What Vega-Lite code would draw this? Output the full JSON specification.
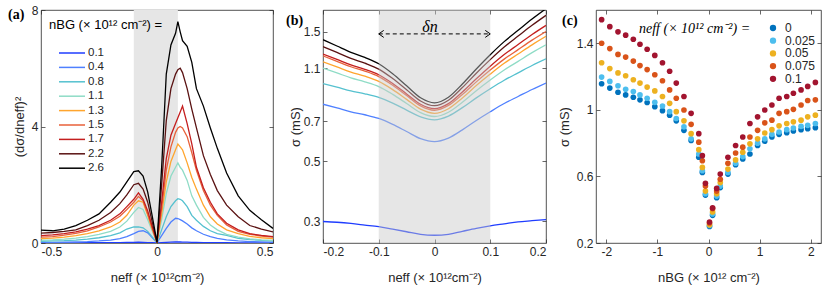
{
"$schema": "https://vega.github.io/schema/vega-lite/v6.json",
"padding": {"left": 7, "top": 3, "right": 5, "bottom": 3},
"spacing": 50,
"bounds": "flush",
"config": {
 "font": "Liberation Sans",
 "view": {"stroke": "#262626", "strokeWidth": 0.8},
 "axis": {"grid": false, "domain": false, "tickSize": -4, "tickColor": "#262626", "tickWidth": 0.7, "labelFontSize": 12, "labelColor": "#262626", "labelPadding": 7, "titleFontSize": 13, "titleFontWeight": "normal", "titleColor": "#262626"},
 "axisX": {"titlePadding": 14},
 "axisY": {"titlePadding": 5},
 "legend": {"labelFontSize": 11.5, "labelColor": "#262626", "titleFontWeight": "normal", "titleColor": "#000", "titleLimit": 300}
},
"datasets": {
"a": [
{"g":"0.1","x":-0.5,"y":0.005},{"g":"0.1","x":-0.45,"y":0.005},{"g":"0.1","x":-0.4,"y":0.006},{"g":"0.1","x":-0.35,"y":0.007},{"g":"0.1","x":-0.3,"y":0.008},{"g":"0.1","x":-0.25,"y":0.01},{"g":"0.1","x":-0.2,"y":0.012},{"g":"0.1","x":-0.16,"y":0.016},{"g":"0.1","x":-0.13,"y":0.02},{"g":"0.1","x":-0.1,"y":0.024},{"g":"0.1","x":-0.08,"y":0.026},{"g":"0.1","x":-0.06,"y":0.024},{"g":"0.1","x":-0.04,"y":0.016},{"g":"0.1","x":-0.02,"y":0.008},{"g":"0.1","x":0,"y":0},{"g":"0.1","x":0.02,"y":0.012},{"g":"0.1","x":0.04,"y":0.024},{"g":"0.1","x":0.06,"y":0.032},{"g":"0.1","x":0.08,"y":0.036},{"g":"0.1","x":0.09,"y":0.035},{"g":"0.1","x":0.1,"y":0.034},{"g":"0.1","x":0.11,"y":0.032},{"g":"0.1","x":0.13,"y":0.028},{"g":"0.1","x":0.15,"y":0.024},{"g":"0.1","x":0.17,"y":0.02},{"g":"0.1","x":0.2,"y":0.016},{"g":"0.1","x":0.23,"y":0.013},{"g":"0.1","x":0.26,"y":0.011},{"g":"0.1","x":0.3,"y":0.009},{"g":"0.1","x":0.35,"y":0.007},{"g":"0.1","x":0.4,"y":0.006},{"g":"0.1","x":0.45,"y":0.005},{"g":"0.1","x":0.5,"y":0.005},
{"g":"0.4","x":-0.5,"y":0.02},{"g":"0.4","x":-0.45,"y":0.02},{"g":"0.4","x":-0.4,"y":0.03},{"g":"0.4","x":-0.35,"y":0.04},{"g":"0.4","x":-0.3,"y":0.05},{"g":"0.4","x":-0.25,"y":0.07},{"g":"0.4","x":-0.2,"y":0.1},{"g":"0.4","x":-0.16,"y":0.15},{"g":"0.4","x":-0.13,"y":0.22},{"g":"0.4","x":-0.1,"y":0.32},{"g":"0.4","x":-0.08,"y":0.4},{"g":"0.4","x":-0.06,"y":0.42},{"g":"0.4","x":-0.04,"y":0.35},{"g":"0.4","x":-0.02,"y":0.18},{"g":"0.4","x":0,"y":0.01},{"g":"0.4","x":0.02,"y":0.25},{"g":"0.4","x":0.04,"y":0.5},{"g":"0.4","x":0.06,"y":0.72},{"g":"0.4","x":0.08,"y":0.85},{"g":"0.4","x":0.09,"y":0.84},{"g":"0.4","x":0.1,"y":0.8},{"g":"0.4","x":0.11,"y":0.76},{"g":"0.4","x":0.13,"y":0.65},{"g":"0.4","x":0.15,"y":0.52},{"g":"0.4","x":0.17,"y":0.42},{"g":"0.4","x":0.2,"y":0.3},{"g":"0.4","x":0.23,"y":0.22},{"g":"0.4","x":0.26,"y":0.16},{"g":"0.4","x":0.3,"y":0.11},{"g":"0.4","x":0.35,"y":0.07},{"g":"0.4","x":0.4,"y":0.05},{"g":"0.4","x":0.45,"y":0.04},{"g":"0.4","x":0.5,"y":0.03},
{"g":"0.8","x":-0.5,"y":0.06},{"g":"0.8","x":-0.45,"y":0.07},{"g":"0.8","x":-0.4,"y":0.08},{"g":"0.8","x":-0.35,"y":0.1},{"g":"0.8","x":-0.3,"y":0.13},{"g":"0.8","x":-0.25,"y":0.18},{"g":"0.8","x":-0.2,"y":0.25},{"g":"0.8","x":-0.16,"y":0.35},{"g":"0.8","x":-0.13,"y":0.48},{"g":"0.8","x":-0.1,"y":0.55},{"g":"0.8","x":-0.08,"y":0.55},{"g":"0.8","x":-0.06,"y":0.52},{"g":"0.8","x":-0.04,"y":0.4},{"g":"0.8","x":-0.02,"y":0.2},{"g":"0.8","x":0,"y":0.01},{"g":"0.8","x":0.02,"y":0.45},{"g":"0.8","x":0.04,"y":0.9},{"g":"0.8","x":0.06,"y":1.25},{"g":"0.8","x":0.08,"y":1.45},{"g":"0.8","x":0.09,"y":1.52},{"g":"0.8","x":0.1,"y":1.5},{"g":"0.8","x":0.11,"y":1.45},{"g":"0.8","x":0.13,"y":1.25},{"g":"0.8","x":0.15,"y":0.95},{"g":"0.8","x":0.17,"y":0.78},{"g":"0.8","x":0.2,"y":0.57},{"g":"0.8","x":0.23,"y":0.42},{"g":"0.8","x":0.26,"y":0.32},{"g":"0.8","x":0.3,"y":0.26},{"g":"0.8","x":0.35,"y":0.16},{"g":"0.8","x":0.4,"y":0.12},{"g":"0.8","x":0.45,"y":0.09},{"g":"0.8","x":0.5,"y":0.07},
{"g":"1.1","x":-0.5,"y":0.1},{"g":"1.1","x":-0.45,"y":0.11},{"g":"1.1","x":-0.4,"y":0.13},{"g":"1.1","x":-0.35,"y":0.17},{"g":"1.1","x":-0.3,"y":0.22},{"g":"1.1","x":-0.25,"y":0.3},{"g":"1.1","x":-0.2,"y":0.4},{"g":"1.1","x":-0.16,"y":0.55},{"g":"1.1","x":-0.13,"y":0.75},{"g":"1.1","x":-0.1,"y":1.05},{"g":"1.1","x":-0.08,"y":1.22},{"g":"1.1","x":-0.06,"y":1.15},{"g":"1.1","x":-0.04,"y":0.8},{"g":"1.1","x":-0.02,"y":0.4},{"g":"1.1","x":0,"y":0.02},{"g":"1.1","x":0.02,"y":0.8},{"g":"1.1","x":0.04,"y":1.7},{"g":"1.1","x":0.06,"y":2.3},{"g":"1.1","x":0.08,"y":2.6},{"g":"1.1","x":0.09,"y":2.75},{"g":"1.1","x":0.1,"y":2.6},{"g":"1.1","x":0.11,"y":2.5},{"g":"1.1","x":0.13,"y":2.15},{"g":"1.1","x":0.15,"y":1.62},{"g":"1.1","x":0.17,"y":1.3},{"g":"1.1","x":0.2,"y":0.88},{"g":"1.1","x":0.23,"y":0.62},{"g":"1.1","x":0.26,"y":0.45},{"g":"1.1","x":0.3,"y":0.3},{"g":"1.1","x":0.35,"y":0.2},{"g":"1.1","x":0.4,"y":0.14},{"g":"1.1","x":0.45,"y":0.11},{"g":"1.1","x":0.5,"y":0.09},
{"g":"1.3","x":-0.5,"y":0.15},{"g":"1.3","x":-0.45,"y":0.17},{"g":"1.3","x":-0.4,"y":0.2},{"g":"1.3","x":-0.35,"y":0.25},{"g":"1.3","x":-0.3,"y":0.32},{"g":"1.3","x":-0.25,"y":0.42},{"g":"1.3","x":-0.2,"y":0.55},{"g":"1.3","x":-0.16,"y":0.72},{"g":"1.3","x":-0.13,"y":0.95},{"g":"1.3","x":-0.1,"y":1.3},{"g":"1.3","x":-0.08,"y":1.45},{"g":"1.3","x":-0.06,"y":1.4},{"g":"1.3","x":-0.04,"y":0.95},{"g":"1.3","x":-0.02,"y":0.45},{"g":"1.3","x":0,"y":0.02},{"g":"1.3","x":0.02,"y":1.0},{"g":"1.3","x":0.04,"y":2.1},{"g":"1.3","x":0.06,"y":2.8},{"g":"1.3","x":0.08,"y":3.2},{"g":"1.3","x":0.09,"y":3.4},{"g":"1.3","x":0.1,"y":3.3},{"g":"1.3","x":0.11,"y":3.2},{"g":"1.3","x":0.13,"y":2.75},{"g":"1.3","x":0.15,"y":2.25},{"g":"1.3","x":0.17,"y":1.85},{"g":"1.3","x":0.2,"y":1.3},{"g":"1.3","x":0.23,"y":0.9},{"g":"1.3","x":0.26,"y":0.65},{"g":"1.3","x":0.3,"y":0.45},{"g":"1.3","x":0.35,"y":0.32},{"g":"1.3","x":0.4,"y":0.23},{"g":"1.3","x":0.45,"y":0.18},{"g":"1.3","x":0.5,"y":0.15},
{"g":"1.5","x":-0.5,"y":0.2},{"g":"1.5","x":-0.45,"y":0.22},{"g":"1.5","x":-0.4,"y":0.27},{"g":"1.5","x":-0.35,"y":0.33},{"g":"1.5","x":-0.3,"y":0.42},{"g":"1.5","x":-0.25,"y":0.55},{"g":"1.5","x":-0.2,"y":0.72},{"g":"1.5","x":-0.16,"y":0.92},{"g":"1.5","x":-0.13,"y":1.15},{"g":"1.5","x":-0.1,"y":1.4},{"g":"1.5","x":-0.08,"y":1.6},{"g":"1.5","x":-0.06,"y":1.45},{"g":"1.5","x":-0.04,"y":1.0},{"g":"1.5","x":-0.02,"y":0.5},{"g":"1.5","x":0,"y":0.02},{"g":"1.5","x":0.02,"y":1.2},{"g":"1.5","x":0.04,"y":2.5},{"g":"1.5","x":0.06,"y":3.3},{"g":"1.5","x":0.08,"y":3.8},{"g":"1.5","x":0.09,"y":3.95},{"g":"1.5","x":0.1,"y":4.0},{"g":"1.5","x":0.11,"y":3.95},{"g":"1.5","x":0.13,"y":3.65},{"g":"1.5","x":0.15,"y":3.1},{"g":"1.5","x":0.17,"y":2.5},{"g":"1.5","x":0.2,"y":1.8},{"g":"1.5","x":0.23,"y":1.3},{"g":"1.5","x":0.26,"y":0.95},{"g":"1.5","x":0.3,"y":0.62},{"g":"1.5","x":0.35,"y":0.4},{"g":"1.5","x":0.4,"y":0.3},{"g":"1.5","x":0.45,"y":0.24},{"g":"1.5","x":0.5,"y":0.2},
{"g":"1.7","x":-0.5,"y":0.25},{"g":"1.7","x":-0.45,"y":0.28},{"g":"1.7","x":-0.4,"y":0.32},{"g":"1.7","x":-0.35,"y":0.38},{"g":"1.7","x":-0.3,"y":0.48},{"g":"1.7","x":-0.25,"y":0.6},{"g":"1.7","x":-0.2,"y":0.78},{"g":"1.7","x":-0.16,"y":1.0},{"g":"1.7","x":-0.13,"y":1.25},{"g":"1.7","x":-0.1,"y":1.5},{"g":"1.7","x":-0.08,"y":1.72},{"g":"1.7","x":-0.06,"y":1.5},{"g":"1.7","x":-0.04,"y":1.1},{"g":"1.7","x":-0.02,"y":0.55},{"g":"1.7","x":0,"y":0.02},{"g":"1.7","x":0.02,"y":1.4},{"g":"1.7","x":0.04,"y":2.9},{"g":"1.7","x":0.06,"y":3.7},{"g":"1.7","x":0.08,"y":4.1},{"g":"1.7","x":0.09,"y":4.3},{"g":"1.7","x":0.1,"y":4.5},{"g":"1.7","x":0.11,"y":4.7},{"g":"1.7","x":0.13,"y":4.1},{"g":"1.7","x":0.15,"y":3.4},{"g":"1.7","x":0.17,"y":2.6},{"g":"1.7","x":0.2,"y":1.9},{"g":"1.7","x":0.23,"y":1.4},{"g":"1.7","x":0.26,"y":1.0},{"g":"1.7","x":0.3,"y":0.68},{"g":"1.7","x":0.35,"y":0.45},{"g":"1.7","x":0.4,"y":0.32},{"g":"1.7","x":0.45,"y":0.26},{"g":"1.7","x":0.5,"y":0.22},
{"g":"2.2","x":-0.5,"y":0.34},{"g":"2.2","x":-0.45,"y":0.36},{"g":"2.2","x":-0.4,"y":0.4},{"g":"2.2","x":-0.35,"y":0.45},{"g":"2.2","x":-0.3,"y":0.6},{"g":"2.2","x":-0.25,"y":0.78},{"g":"2.2","x":-0.2,"y":1.05},{"g":"2.2","x":-0.16,"y":1.35},{"g":"2.2","x":-0.13,"y":1.65},{"g":"2.2","x":-0.1,"y":2.0},{"g":"2.2","x":-0.08,"y":2.05},{"g":"2.2","x":-0.06,"y":1.85},{"g":"2.2","x":-0.04,"y":1.4},{"g":"2.2","x":-0.02,"y":0.7},{"g":"2.2","x":0,"y":0.02},{"g":"2.2","x":0.02,"y":2.0},{"g":"2.2","x":0.04,"y":4.2},{"g":"2.2","x":0.06,"y":5.3},{"g":"2.2","x":0.08,"y":5.8},{"g":"2.2","x":0.09,"y":5.95},{"g":"2.2","x":0.1,"y":6.0},{"g":"2.2","x":0.11,"y":5.85},{"g":"2.2","x":0.13,"y":5.3},{"g":"2.2","x":0.15,"y":4.6},{"g":"2.2","x":0.17,"y":3.95},{"g":"2.2","x":0.2,"y":3.0},{"g":"2.2","x":0.23,"y":2.35},{"g":"2.2","x":0.26,"y":1.8},{"g":"2.2","x":0.3,"y":1.3},{"g":"2.2","x":0.35,"y":0.9},{"g":"2.2","x":0.4,"y":0.6},{"g":"2.2","x":0.45,"y":0.48},{"g":"2.2","x":0.5,"y":0.38},
{"g":"2.6","x":-0.5,"y":0.44},{"g":"2.6","x":-0.45,"y":0.42},{"g":"2.6","x":-0.4,"y":0.48},{"g":"2.6","x":-0.35,"y":0.6},{"g":"2.6","x":-0.3,"y":0.78},{"g":"2.6","x":-0.25,"y":1.0},{"g":"2.6","x":-0.2,"y":1.4},{"g":"2.6","x":-0.16,"y":1.75},{"g":"2.6","x":-0.13,"y":2.1},{"g":"2.6","x":-0.1,"y":2.45},{"g":"2.6","x":-0.08,"y":2.48},{"g":"2.6","x":-0.06,"y":2.3},{"g":"2.6","x":-0.04,"y":1.75},{"g":"2.6","x":-0.02,"y":0.9},{"g":"2.6","x":0,"y":0.02},{"g":"2.6","x":0.02,"y":2.6},{"g":"2.6","x":0.04,"y":5.8},{"g":"2.6","x":0.06,"y":6.8},{"g":"2.6","x":0.08,"y":7.2},{"g":"2.6","x":0.09,"y":7.6},{"g":"2.6","x":0.1,"y":7.25},{"g":"2.6","x":0.11,"y":6.95},{"g":"2.6","x":0.13,"y":6.75},{"g":"2.6","x":0.15,"y":6.2},{"g":"2.6","x":0.17,"y":5.3},{"g":"2.6","x":0.2,"y":4.7},{"g":"2.6","x":0.23,"y":3.95},{"g":"2.6","x":0.26,"y":3.25},{"g":"2.6","x":0.3,"y":2.4},{"g":"2.6","x":0.35,"y":1.62},{"g":"2.6","x":0.4,"y":1.12},{"g":"2.6","x":0.45,"y":0.8},{"g":"2.6","x":0.5,"y":0.5}
],
"b": [
{"g":"0.1","x":-0.2,"y":0.3},{"g":"0.1","x":-0.175,"y":0.298},{"g":"0.1","x":-0.15,"y":0.295},{"g":"0.1","x":-0.125,"y":0.291},{"g":"0.1","x":-0.1,"y":0.287},{"g":"0.1","x":-0.075,"y":0.281},{"g":"0.1","x":-0.05,"y":0.275},{"g":"0.1","x":-0.025,"y":0.269},{"g":"0.1","x":0,"y":0.267},{"g":"0.1","x":0.025,"y":0.269},{"g":"0.1","x":0.05,"y":0.276},{"g":"0.1","x":0.075,"y":0.283},{"g":"0.1","x":0.1,"y":0.289},{"g":"0.1","x":0.125,"y":0.294},{"g":"0.1","x":0.15,"y":0.299},{"g":"0.1","x":0.175,"y":0.302},{"g":"0.1","x":0.2,"y":0.305},
{"g":"0.4","x":-0.2,"y":0.81},{"g":"0.4","x":-0.175,"y":0.785},{"g":"0.4","x":-0.15,"y":0.76},{"g":"0.4","x":-0.125,"y":0.741},{"g":"0.4","x":-0.1,"y":0.718},{"g":"0.4","x":-0.075,"y":0.683},{"g":"0.4","x":-0.05,"y":0.643},{"g":"0.4","x":-0.025,"y":0.605},{"g":"0.4","x":0,"y":0.59},{"g":"0.4","x":0.025,"y":0.608},{"g":"0.4","x":0.05,"y":0.652},{"g":"0.4","x":0.075,"y":0.706},{"g":"0.4","x":0.1,"y":0.76},{"g":"0.4","x":0.125,"y":0.815},{"g":"0.4","x":0.15,"y":0.865},{"g":"0.4","x":0.175,"y":0.918},{"g":"0.4","x":0.2,"y":0.97},
{"g":"0.8","x":-0.2,"y":0.965},{"g":"0.8","x":-0.175,"y":0.936},{"g":"0.8","x":-0.15,"y":0.907},{"g":"0.8","x":-0.125,"y":0.885},{"g":"0.8","x":-0.1,"y":0.858},{"g":"0.8","x":-0.075,"y":0.818},{"g":"0.8","x":-0.05,"y":0.771},{"g":"0.8","x":-0.025,"y":0.728},{"g":"0.8","x":0,"y":0.71},{"g":"0.8","x":0.025,"y":0.733},{"g":"0.8","x":0.05,"y":0.787},{"g":"0.8","x":0.075,"y":0.855},{"g":"0.8","x":0.1,"y":0.924},{"g":"0.8","x":0.125,"y":0.993},{"g":"0.8","x":0.15,"y":1.057},{"g":"0.8","x":0.175,"y":1.125},{"g":"0.8","x":0.2,"y":1.19},
{"g":"1.1","x":-0.2,"y":1.1},{"g":"1.1","x":-0.175,"y":1.056},{"g":"1.1","x":-0.15,"y":1.013},{"g":"1.1","x":-0.125,"y":0.98},{"g":"1.1","x":-0.1,"y":0.941},{"g":"1.1","x":-0.075,"y":0.881},{"g":"1.1","x":-0.05,"y":0.815},{"g":"1.1","x":-0.025,"y":0.754},{"g":"1.1","x":0,"y":0.73},{"g":"1.1","x":0.025,"y":0.757},{"g":"1.1","x":0.05,"y":0.824},{"g":"1.1","x":0.075,"y":0.909},{"g":"1.1","x":0.1,"y":0.995},{"g":"1.1","x":0.125,"y":1.083},{"g":"1.1","x":0.15,"y":1.165},{"g":"1.1","x":0.175,"y":1.254},{"g":"1.1","x":0.2,"y":1.34},
{"g":"1.3","x":-0.2,"y":1.16},{"g":"1.3","x":-0.175,"y":1.111},{"g":"1.3","x":-0.15,"y":1.063},{"g":"1.3","x":-0.125,"y":1.027},{"g":"1.3","x":-0.1,"y":0.983},{"g":"1.3","x":-0.075,"y":0.917},{"g":"1.3","x":-0.05,"y":0.844},{"g":"1.3","x":-0.025,"y":0.777},{"g":"1.3","x":0,"y":0.75},{"g":"1.3","x":0.025,"y":0.78},{"g":"1.3","x":0.05,"y":0.854},{"g":"1.3","x":0.075,"y":0.949},{"g":"1.3","x":0.1,"y":1.046},{"g":"1.3","x":0.125,"y":1.146},{"g":"1.3","x":0.15,"y":1.239},{"g":"1.3","x":0.175,"y":1.34},{"g":"1.3","x":0.2,"y":1.44},
{"g":"1.5","x":-0.2,"y":1.22},{"g":"1.5","x":-0.175,"y":1.165},{"g":"1.5","x":-0.15,"y":1.113},{"g":"1.5","x":-0.125,"y":1.073},{"g":"1.5","x":-0.1,"y":1.024},{"g":"1.5","x":-0.075,"y":0.952},{"g":"1.5","x":-0.05,"y":0.872},{"g":"1.5","x":-0.025,"y":0.799},{"g":"1.5","x":0,"y":0.77},{"g":"1.5","x":0.025,"y":0.802},{"g":"1.5","x":0.05,"y":0.88},{"g":"1.5","x":0.075,"y":0.979},{"g":"1.5","x":0.1,"y":1.082},{"g":"1.5","x":0.125,"y":1.187},{"g":"1.5","x":0.15,"y":1.287},{"g":"1.5","x":0.175,"y":1.394},{"g":"1.5","x":0.2,"y":1.5},
{"g":"1.7","x":-0.2,"y":1.24},{"g":"1.7","x":-0.175,"y":1.184},{"g":"1.7","x":-0.15,"y":1.13},{"g":"1.7","x":-0.125,"y":1.089},{"g":"1.7","x":-0.1,"y":1.04},{"g":"1.7","x":-0.075,"y":0.966},{"g":"1.7","x":-0.05,"y":0.884},{"g":"1.7","x":-0.025,"y":0.81},{"g":"1.7","x":0,"y":0.78},{"g":"1.7","x":0.025,"y":0.814},{"g":"1.7","x":0.05,"y":0.899},{"g":"1.7","x":0.075,"y":1.005},{"g":"1.7","x":0.1,"y":1.118},{"g":"1.7","x":0.125,"y":1.234},{"g":"1.7","x":0.15,"y":1.343},{"g":"1.7","x":0.175,"y":1.462},{"g":"1.7","x":0.2,"y":1.58},
{"g":"2.2","x":-0.2,"y":1.32},{"g":"2.2","x":-0.175,"y":1.256},{"g":"2.2","x":-0.15,"y":1.194},{"g":"2.2","x":-0.125,"y":1.147},{"g":"2.2","x":-0.1,"y":1.091},{"g":"2.2","x":-0.075,"y":1.007},{"g":"2.2","x":-0.05,"y":0.916},{"g":"2.2","x":-0.025,"y":0.833},{"g":"2.2","x":0,"y":0.8},{"g":"2.2","x":0.025,"y":0.838},{"g":"2.2","x":0.05,"y":0.933},{"g":"2.2","x":0.075,"y":1.054},{"g":"2.2","x":0.1,"y":1.182},{"g":"2.2","x":0.125,"y":1.315},{"g":"2.2","x":0.15,"y":1.443},{"g":"2.2","x":0.175,"y":1.581},{"g":"2.2","x":0.2,"y":1.72},
{"g":"2.6","x":-0.2,"y":1.4},{"g":"2.6","x":-0.175,"y":1.327},{"g":"2.6","x":-0.15,"y":1.258},{"g":"2.6","x":-0.125,"y":1.205},{"g":"2.6","x":-0.1,"y":1.142},{"g":"2.6","x":-0.075,"y":1.049},{"g":"2.6","x":-0.05,"y":0.947},{"g":"2.6","x":-0.025,"y":0.856},{"g":"2.6","x":0,"y":0.82},{"g":"2.6","x":0.025,"y":0.86},{"g":"2.6","x":0.05,"y":0.962},{"g":"2.6","x":0.075,"y":1.092},{"g":"2.6","x":0.1,"y":1.232},{"g":"2.6","x":0.125,"y":1.377},{"g":"2.6","x":0.15,"y":1.515},{"g":"2.6","x":0.175,"y":1.667},{"g":"2.6","x":0.2,"y":1.82}
],
"c": [
{"g":"0","x":-2.09,"y":1.157},{"g":"0","x":-1.93,"y":1.131},{"g":"0","x":-1.77,"y":1.106},{"g":"0","x":-1.62,"y":1.09},{"g":"0","x":-1.47,"y":1.076},{"g":"0","x":-1.34,"y":1.06},{"g":"0","x":-1.2,"y":1.044},{"g":"0","x":-1.05,"y":1.019},{"g":"0","x":-0.9,"y":0.995},{"g":"0","x":-0.76,"y":0.968},{"g":"0","x":-0.63,"y":0.934},{"g":"0","x":-0.48,"y":0.877},{"g":"0","x":-0.34,"y":0.816},{"g":"0","x":-0.19,"y":0.715},{"g":"0","x":-0.12,"y":0.624},{"g":"0","x":-0.06,"y":0.488},{"g":"0","x":0.02,"y":0.299},{"g":"0","x":0.08,"y":0.366},{"g":"0","x":0.16,"y":0.472},{"g":"0","x":0.23,"y":0.533},{"g":"0","x":0.38,"y":0.614},{"g":"0","x":0.53,"y":0.67},{"g":"0","x":0.67,"y":0.705},{"g":"0","x":0.81,"y":0.735},{"g":"0","x":0.96,"y":0.786},{"g":"0","x":1.1,"y":0.812},{"g":"0","x":1.24,"y":0.837},{"g":"0","x":1.38,"y":0.853},{"g":"0","x":1.53,"y":0.863},{"g":"0","x":1.66,"y":0.873},{"g":"0","x":1.81,"y":0.881},{"g":"0","x":1.94,"y":0.887},{"g":"0","x":2.09,"y":0.893},
{"g":"0.025","x":-2.09,"y":1.197},{"g":"0.025","x":-1.93,"y":1.171},{"g":"0.025","x":-1.77,"y":1.145},{"g":"0.025","x":-1.62,"y":1.124},{"g":"0.025","x":-1.47,"y":1.11},{"g":"0.025","x":-1.34,"y":1.09},{"g":"0.025","x":-1.2,"y":1.07},{"g":"0.025","x":-1.05,"y":1.045},{"g":"0.025","x":-0.9,"y":1.023},{"g":"0.025","x":-0.76,"y":0.989},{"g":"0.025","x":-0.63,"y":0.948},{"g":"0.025","x":-0.48,"y":0.898},{"g":"0.025","x":-0.34,"y":0.826},{"g":"0.025","x":-0.19,"y":0.735},{"g":"0.025","x":-0.12,"y":0.634},{"g":"0.025","x":-0.06,"y":0.496},{"g":"0.025","x":0.02,"y":0.305},{"g":"0.025","x":0.08,"y":0.375},{"g":"0.025","x":0.16,"y":0.482},{"g":"0.025","x":0.23,"y":0.542},{"g":"0.025","x":0.38,"y":0.624},{"g":"0.025","x":0.53,"y":0.679},{"g":"0.025","x":0.67,"y":0.719},{"g":"0.025","x":0.81,"y":0.766},{"g":"0.025","x":0.96,"y":0.8},{"g":"0.025","x":1.1,"y":0.826},{"g":"0.025","x":1.24,"y":0.853},{"g":"0.025","x":1.38,"y":0.867},{"g":"0.025","x":1.53,"y":0.881},{"g":"0.025","x":1.66,"y":0.891},{"g":"0.025","x":1.81,"y":0.901},{"g":"0.025","x":1.94,"y":0.907},{"g":"0.025","x":2.09,"y":0.918},
{"g":"0.05","x":-2.09,"y":1.283},{"g":"0.05","x":-1.93,"y":1.248},{"g":"0.05","x":-1.77,"y":1.222},{"g":"0.05","x":-1.62,"y":1.205},{"g":"0.05","x":-1.47,"y":1.181},{"g":"0.05","x":-1.34,"y":1.161},{"g":"0.05","x":-1.2,"y":1.137},{"g":"0.05","x":-1.05,"y":1.114},{"g":"0.05","x":-0.9,"y":1.08},{"g":"0.05","x":-0.76,"y":1.039},{"g":"0.05","x":-0.63,"y":0.989},{"g":"0.05","x":-0.48,"y":0.934},{"g":"0.05","x":-0.34,"y":0.857},{"g":"0.05","x":-0.19,"y":0.761},{"g":"0.05","x":-0.12,"y":0.654},{"g":"0.05","x":-0.06,"y":0.512},{"g":"0.05","x":0.02,"y":0.309},{"g":"0.05","x":0.08,"y":0.387},{"g":"0.05","x":0.16,"y":0.496},{"g":"0.05","x":0.23,"y":0.563},{"g":"0.05","x":0.38,"y":0.644},{"g":"0.05","x":0.53,"y":0.699},{"g":"0.05","x":0.67,"y":0.745},{"g":"0.05","x":0.81,"y":0.796},{"g":"0.05","x":0.96,"y":0.826},{"g":"0.05","x":1.1,"y":0.861},{"g":"0.05","x":1.24,"y":0.881},{"g":"0.05","x":1.38,"y":0.904},{"g":"0.05","x":1.53,"y":0.918},{"g":"0.05","x":1.66,"y":0.928},{"g":"0.05","x":1.81,"y":0.938},{"g":"0.05","x":1.94,"y":0.958},{"g":"0.05","x":2.09,"y":0.968},
{"g":"0.075","x":-2.09,"y":1.4},{"g":"0.075","x":-1.93,"y":1.368},{"g":"0.075","x":-1.77,"y":1.333},{"g":"0.075","x":-1.62,"y":1.317},{"g":"0.075","x":-1.47,"y":1.293},{"g":"0.075","x":-1.34,"y":1.266},{"g":"0.075","x":-1.2,"y":1.242},{"g":"0.075","x":-1.05,"y":1.211},{"g":"0.075","x":-0.9,"y":1.175},{"g":"0.075","x":-0.76,"y":1.12},{"g":"0.075","x":-0.63,"y":1.07},{"g":"0.075","x":-0.48,"y":0.999},{"g":"0.075","x":-0.34,"y":0.913},{"g":"0.075","x":-0.19,"y":0.806},{"g":"0.075","x":-0.12,"y":0.694},{"g":"0.075","x":-0.06,"y":0.542},{"g":"0.075","x":0.02,"y":0.32},{"g":"0.075","x":0.08,"y":0.407},{"g":"0.075","x":0.16,"y":0.512},{"g":"0.075","x":0.23,"y":0.583},{"g":"0.075","x":0.38,"y":0.679},{"g":"0.075","x":0.53,"y":0.741},{"g":"0.075","x":0.67,"y":0.776},{"g":"0.075","x":0.81,"y":0.837},{"g":"0.075","x":0.96,"y":0.877},{"g":"0.075","x":1.1,"y":0.922},{"g":"0.075","x":1.24,"y":0.938},{"g":"0.075","x":1.38,"y":0.979},{"g":"0.075","x":1.53,"y":0.989},{"g":"0.075","x":1.66,"y":1.003},{"g":"0.075","x":1.81,"y":1.029},{"g":"0.075","x":1.94,"y":1.056},{"g":"0.075","x":2.09,"y":1.06},
{"g":"0.1","x":-2.09,"y":1.542},{"g":"0.1","x":-1.93,"y":1.5},{"g":"0.1","x":-1.77,"y":1.469},{"g":"0.1","x":-1.62,"y":1.449},{"g":"0.1","x":-1.47,"y":1.424},{"g":"0.1","x":-1.34,"y":1.394},{"g":"0.1","x":-1.2,"y":1.364},{"g":"0.1","x":-1.05,"y":1.327},{"g":"0.1","x":-0.9,"y":1.283},{"g":"0.1","x":-0.76,"y":1.232},{"g":"0.1","x":-0.63,"y":1.161},{"g":"0.1","x":-0.48,"y":1.08},{"g":"0.1","x":-0.34,"y":0.979},{"g":"0.1","x":-0.19,"y":0.857},{"g":"0.1","x":-0.12,"y":0.725},{"g":"0.1","x":-0.06,"y":0.559},{"g":"0.1","x":0.02,"y":0.326},{"g":"0.1","x":0.08,"y":0.411},{"g":"0.1","x":0.16,"y":0.528},{"g":"0.1","x":0.23,"y":0.614},{"g":"0.1","x":0.38,"y":0.715},{"g":"0.1","x":0.53,"y":0.786},{"g":"0.1","x":0.67,"y":0.837},{"g":"0.1","x":0.81,"y":0.918},{"g":"0.1","x":0.96,"y":0.958},{"g":"0.1","x":1.1,"y":0.999},{"g":"0.1","x":1.24,"y":1.029},{"g":"0.1","x":1.38,"y":1.07},{"g":"0.1","x":1.53,"y":1.08},{"g":"0.1","x":1.66,"y":1.1},{"g":"0.1","x":1.81,"y":1.12},{"g":"0.1","x":1.94,"y":1.141},{"g":"0.1","x":2.09,"y":1.165}
]
},
"hconcat": [
{
 "width": 232, "height": 233,
 "title": {"text": "(a)", "anchor": "start", "frame": "group", "offset": 0, "dx": -33, "dy": 18, "font": "Liberation Serif", "fontSize": 14, "fontWeight": "bold", "color": "#000"},
 "resolve": {"axis": {"x": "independent", "y": "independent"}},
 "layer": [
  {"data": {"values": [{"x": -0.1, "x2": 0.09}]}, "mark": {"type": "rect", "color": "#e6e6e6"}, "encoding": {"x": {"field": "x", "type": "quantitative", "axis": null}, "x2": {"field": "x2"}}},
  {"data": {"name": "a"}, "mark": {"type": "line", "strokeWidth": 1.3, "clip": true},
   "encoding": {
    "x": {"field": "x", "type": "quantitative", "scale": {"domain": [-0.5, 0.5], "nice": false}, "axis": {"values": [-0.5, 0, 0.5], "title": "neff (× 10¹²cm⁻²)", "labelExpr": "replace(format(datum.value, '~g'), '−', '-')"}},
    "y": {"field": "y", "type": "quantitative", "scale": {"domain": [0, 8], "nice": false}, "axis": {"values": [0, 4, 8], "title": "(dσ/dneff)²"}},
    "color": {"field": "g", "type": "nominal", "sort": null,
      "scale": {"domain": ["0.1","0.4","0.8","1.1","1.3","1.5","1.7","2.2","2.6"], "range": ["#1f3dff","#4f80ff","#55c1cf","#8fdcc6","#ffa52e","#e8613a","#c41e1e","#5a1212","#000000"]},
      "legend": {"orient": "none", "legendX": 8, "legendY": 9, "title": "nBG (× 10¹² cm⁻²) =", "titleFontSize": 13, "titlePadding": 15, "symbolType": "M-2.6,0H2.6", "symbolSize": 100, "symbolStrokeWidth": 1.5, "symbolOffset": 17, "labelOffset": 10, "rowPadding": 2.4, "labelFontSize": 11.5}}
   }},
  {"data": {"values": [{"x": 0, "y": 4}]}, "mark": {"type": "point", "opacity": 0},
   "encoding": {"x": {"field": "x", "type": "quantitative", "axis": {"orient": "top", "values": [-0.5, 0, 0.5], "labels": false, "title": null}}, "y": {"field": "y", "type": "quantitative", "axis": {"orient": "right", "values": [0, 4, 8], "labels": false, "title": null}}}}
 ]
},
{
 "width": 223, "height": 233,
 "title": {"text": "(b)", "anchor": "start", "frame": "group", "offset": 0, "dx": -37, "dy": 18, "font": "Liberation Serif", "fontSize": 14, "fontWeight": "bold", "color": "#000"},
 "resolve": {"axis": {"x": "independent", "y": "independent"}},
 "layer": [
  {"data": {"name": "b"}, "mark": {"type": "line", "strokeWidth": 1.3, "interpolate": "monotone", "clip": true},
   "encoding": {
    "x": {"field": "x", "type": "quantitative", "scale": {"domain": [-0.2, 0.2], "nice": false}, "axis": {"values": [-0.2, -0.1, 0, 0.1, 0.2], "title": "neff (× 10¹²cm⁻²)", "labelExpr": "replace(format(datum.value, '~g'), '−', '-')"}},
    "y": {"field": "y", "type": "quantitative", "scale": {"type": "log", "domain": [0.25, 1.8], "nice": false}, "axis": {"values": [0.3, 0.5, 0.7, 1.1, 1.5], "title": "σ (mS)", "format": ".1f", "titlePadding": 1}},
    "color": {"field": "g", "type": "nominal", "sort": null,
      "scale": {"domain": ["0.1","0.4","0.8","1.1","1.3","1.5","1.7","2.2","2.6"], "range": ["#1f3dff","#4f80ff","#55c1cf","#8fdcc6","#ffa52e","#e8613a","#c41e1e","#5a1212","#000000"]},
      "legend": null}
   }},
  {"data": {"values": [{"x": -0.1, "x2": 0.1}]}, "mark": {"type": "rect", "color": "#c8c8c8", "opacity": 0.45}, "encoding": {"x": {"field": "x", "type": "quantitative", "axis": null}, "x2": {"field": "x2"}}},
  {"data": {"values": [{"x": -0.1, "x2": 0.1, "y": 1.47}]}, "mark": {"type": "rule", "color": "#000", "strokeDash": [4, 3], "strokeWidth": 1}, "encoding": {"x": {"field": "x", "type": "quantitative", "axis": null}, "x2": {"field": "x2"}, "y": {"field": "y", "type": "quantitative", "axis": null}}},
  {"data": {"values": [{"x": -0.1, "y": 1.47, "s": "L"}, {"x": 0.1, "y": 1.47, "s": "R"}]}, "mark": {"type": "point", "filled": false, "color": "#000", "strokeWidth": 1, "size": 100, "opacity": 1},
   "encoding": {"x": {"field": "x", "type": "quantitative", "axis": null}, "y": {"field": "y", "type": "quantitative", "axis": null}, "shape": {"field": "s", "type": "nominal", "scale": {"domain": ["L", "R"], "range": ["M1,-0.7L0,0L1,0.7", "M-1,-0.7L0,0L-1,0.7"]}, "legend": null}}},
  {"data": {"values": [{"x": -0.008, "y": 1.56, "t": "δn"}]}, "mark": {"type": "text", "font": "Liberation Serif", "fontStyle": "italic", "fontSize": 16, "color": "#000", "baseline": "middle"},
   "encoding": {"x": {"field": "x", "type": "quantitative", "axis": null}, "y": {"field": "y", "type": "quantitative", "axis": null}, "text": {"field": "t"}}},
  {"data": {"values": [{"x": 0, "y": 1}]}, "mark": {"type": "point", "opacity": 0},
   "encoding": {"x": {"field": "x", "type": "quantitative", "axis": {"orient": "top", "values": [-0.2, -0.1, 0, 0.1, 0.2], "labels": false, "title": null}}, "y": {"field": "y", "type": "quantitative", "axis": {"orient": "right", "values": [0.3, 0.5, 0.7, 1.1, 1.5], "labels": false, "title": null}}}}
 ]
},
{
 "width": 225, "height": 233,
 "title": {"text": "(c)", "anchor": "start", "frame": "group", "offset": 0, "dx": -34, "dy": 18, "font": "Liberation Serif", "fontSize": 14, "fontWeight": "bold", "color": "#000"},
 "resolve": {"axis": {"x": "independent", "y": "independent"}},
 "layer": [
  {"data": {"name": "c"}, "mark": {"type": "point", "filled": true, "size": 32, "opacity": 1},
   "encoding": {
    "x": {"field": "x", "type": "quantitative", "scale": {"domain": [-2.2, 2.2], "nice": false}, "axis": {"values": [-2, -1, 0, 1, 2], "title": "nBG (× 10¹² cm⁻²)", "labelExpr": "replace(format(datum.value, '~g'), '−', '-')"}},
    "y": {"field": "y", "type": "quantitative", "scale": {"domain": [0.2, 1.6], "nice": false}, "axis": {"values": [0.2, 0.6, 1, 1.4], "title": "σ (mS)", "format": "~g"}},
    "color": {"field": "g", "type": "nominal", "sort": null,
      "scale": {"domain": ["0","0.025","0.05","0.075","0.1"], "range": ["#0072bd","#4dbeee","#edb120","#d95319","#a2142f"]},
      "legend": {"orient": "none", "legendX": 43, "legendY": 12, "title": "neff (× 10¹² cm⁻²) =", "titleOrient": "left", "titleAnchor": "start", "titleFont": "Liberation Serif", "titleFontStyle": "italic", "titleFontSize": 14, "titlePadding": 16, "symbolType": "circle", "symbolSize": 40, "symbolStrokeWidth": 0, "labelOffset": 6, "rowPadding": 0.7, "labelFontSize": 12}}
   }},
  {"data": {"values": [{"x": 0, "y": 1}]}, "mark": {"type": "point", "opacity": 0},
   "encoding": {"x": {"field": "x", "type": "quantitative", "axis": {"orient": "top", "values": [-2, -1, 0, 1, 2], "labels": false, "title": null}}, "y": {"field": "y", "type": "quantitative", "axis": {"orient": "right", "values": [0.2, 0.6, 1, 1.4], "labels": false, "title": null}}}}
 ]
}
],
"resolve": {"scale": {"color": "independent"}, "legend": {"color": "independent"}}
}
